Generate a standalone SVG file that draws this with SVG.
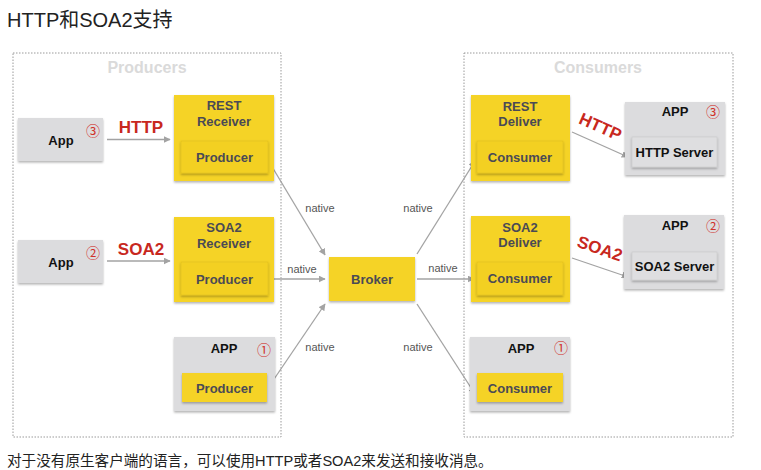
<svg xmlns="http://www.w3.org/2000/svg" width="761" height="470" viewBox="0 0 761 470">
<defs>
<filter id="sh" x="-20%" y="-20%" width="140%" height="150%">
<feDropShadow dx="0" dy="1.5" stdDeviation="1.2" flood-color="#000" flood-opacity="0.3"/>
</filter>
<marker id="ah" viewBox="0 0 10 10" refX="9" refY="5" markerWidth="7" markerHeight="7" markerUnits="userSpaceOnUse" orient="auto">
<path d="M0,0 L10,5 L0,10 z" fill="#a3a3a3"/>
</marker>
</defs>
<style>
.t{font-family:"Liberation Sans","Noto Sans CJK SC",sans-serif}
.zone{fill:none;stroke:#9a9a9a;stroke-width:1;stroke-dasharray:1.5 1.5}
.zl{font-family:"Liberation Sans",sans-serif;font-weight:bold;font-size:16px;fill:#dadada;text-anchor:middle}
.y{fill:#f5d327;filter:url(#sh)}
.yi{fill:#f3d024;stroke:#e2bf1a;stroke-width:0.6;filter:url(#sh)}
.g{fill:#dcdcde;filter:url(#sh)}
.gi{fill:#dedee0;stroke:#c8c8ca;stroke-width:0.6;filter:url(#sh)}
.yt{font-family:"Liberation Sans",sans-serif;font-weight:bold;font-size:13px;fill:#4a4a55;text-anchor:middle}
.bt{font-family:"Liberation Sans",sans-serif;font-weight:bold;font-size:13px;fill:#111;text-anchor:middle}
.num{font-family:"Noto Sans CJK SC","DejaVu Sans",sans-serif;font-size:14px;fill:#d0302a;text-anchor:middle}
.red{font-family:"Liberation Sans",sans-serif;font-weight:bold;font-size:17px;fill:#c8281e;text-anchor:middle}
.nat{font-family:"Liberation Sans",sans-serif;font-size:11px;fill:#555;text-anchor:middle}
.ln{stroke:#a3a3a3;stroke-width:1.3;fill:none;marker-end:url(#ah)}
</style>
<rect width="761" height="470" fill="#fff"/>
<text class="t" x="7" y="27" font-size="20" fill="#222">HTTP和SOA2支持</text>

<g id="producers-zone">
<rect class="zone" x="13" y="53" width="268" height="384"/>
<text class="zl" x="147" y="73">Producers</text>
</g>
<g id="consumers-zone">
<rect class="zone" x="464" y="53" width="269" height="384"/>
<text class="zl" x="598" y="73">Consumers</text>
</g>

<g id="connectors">
<line class="ln" x1="107" y1="139.5" x2="170" y2="139.5"/>
<line class="ln" x1="107" y1="261" x2="170" y2="261"/>
<line class="ln" x1="268" y1="160" x2="325" y2="255"/>
<line class="ln" x1="268" y1="279" x2="325" y2="279"/>
<line class="ln" x1="268" y1="388" x2="325" y2="304"/>
<line class="ln" x1="417" y1="254" x2="475" y2="161"/>
<line class="ln" x1="417" y1="279" x2="474" y2="279"/>
<line class="ln" x1="417" y1="304" x2="475" y2="394"/>
<line class="ln" x1="572" y1="132" x2="628" y2="157"/>
<line class="ln" x1="572" y1="258" x2="628" y2="277"/>
<text class="red" x="141" y="133">HTTP</text>
<text class="red" x="141" y="255">SOA2</text>
<text class="red" transform="translate(598,132) rotate(24)">HTTP</text>
<text class="red" transform="translate(598,254) rotate(19)">SOA2</text>
<text class="nat" x="320" y="212">native</text>
<text class="nat" x="302" y="273">native</text>
<text class="nat" x="320" y="351">native</text>
<text class="nat" x="418" y="212">native</text>
<text class="nat" x="443" y="272">native</text>
<text class="nat" x="418" y="351">native</text>
</g>

<g id="app3">
<rect class="g" x="18" y="118" width="85" height="43"/>
<text class="bt" x="61" y="145">App</text>
<text class="num" x="93" y="136">③</text>
</g>
<g id="app2">
<rect class="g" x="18" y="240" width="85" height="43"/>
<text class="bt" x="61" y="267">App</text>
<text class="num" x="93" y="258">②</text>
</g>

<g id="rest-receiver">
<rect class="y" x="174" y="95" width="100" height="86"/>
<text class="yt" x="224" y="110">REST</text>
<text class="yt" x="224" y="126">Receiver</text>
<rect class="yi" x="181" y="141" width="87" height="32"/>
<text class="yt" x="224.5" y="162">Producer</text>
</g>
<g id="soa2-receiver">
<rect class="y" x="174" y="217" width="100" height="85"/>
<text class="yt" x="224" y="232">SOA2</text>
<text class="yt" x="224" y="248">Receiver</text>
<rect class="yi" x="181" y="262" width="87" height="33"/>
<text class="yt" x="224.5" y="284">Producer</text>
</g>
<g id="app1-producer">
<rect class="g" x="174" y="337" width="101" height="74"/>
<text class="bt" x="224" y="353">APP</text>
<text class="num" x="264" y="355">①</text>
<rect class="y" x="182" y="373" width="85" height="29"/>
<text class="yt" x="224.5" y="393">Producer</text>
</g>

<g id="broker">
<rect class="y" x="329" y="257" width="86" height="44"/>
<text class="yt" x="372" y="284">Broker</text>
</g>

<g id="rest-deliver">
<rect class="y" x="471" y="95" width="99" height="86"/>
<text class="yt" x="520" y="111">REST</text>
<text class="yt" x="520" y="126">Deliver</text>
<rect class="yi" x="477" y="141" width="86" height="32"/>
<text class="yt" x="520" y="162">Consumer</text>
</g>
<g id="soa2-deliver">
<rect class="y" x="471" y="216" width="99" height="86"/>
<text class="yt" x="520" y="232">SOA2</text>
<text class="yt" x="520" y="247">Deliver</text>
<rect class="yi" x="477" y="262" width="86" height="33"/>
<text class="yt" x="520" y="283">Consumer</text>
</g>
<g id="app1-consumer">
<rect class="g" x="470" y="337" width="100" height="74"/>
<text class="bt" x="521" y="353">APP</text>
<text class="num" x="561" y="353">①</text>
<rect class="y" x="477" y="373" width="86" height="29"/>
<text class="yt" x="520" y="393">Consumer</text>
</g>

<g id="app3-consumer">
<rect class="g" x="625" y="102" width="100" height="73"/>
<text class="bt" x="675" y="116">APP</text>
<text class="num" x="713" y="117">③</text>
<rect class="gi" x="632" y="137" width="85" height="30"/>
<text class="bt" x="674.5" y="157">HTTP Server</text>
</g>
<g id="app2-consumer">
<rect class="g" x="624" y="215" width="100" height="74"/>
<text class="bt" x="675" y="230">APP</text>
<text class="num" x="713" y="231">②</text>
<rect class="gi" x="632" y="252" width="85" height="28"/>
<text class="bt" x="674.5" y="271">SOA2 Server</text>
</g>

<text class="t" x="7" y="466" font-size="14.6" fill="#222">对于没有原生客户端的语言，可以使用HTTP或者SOA2来发送和接收消息。</text>
</svg>
